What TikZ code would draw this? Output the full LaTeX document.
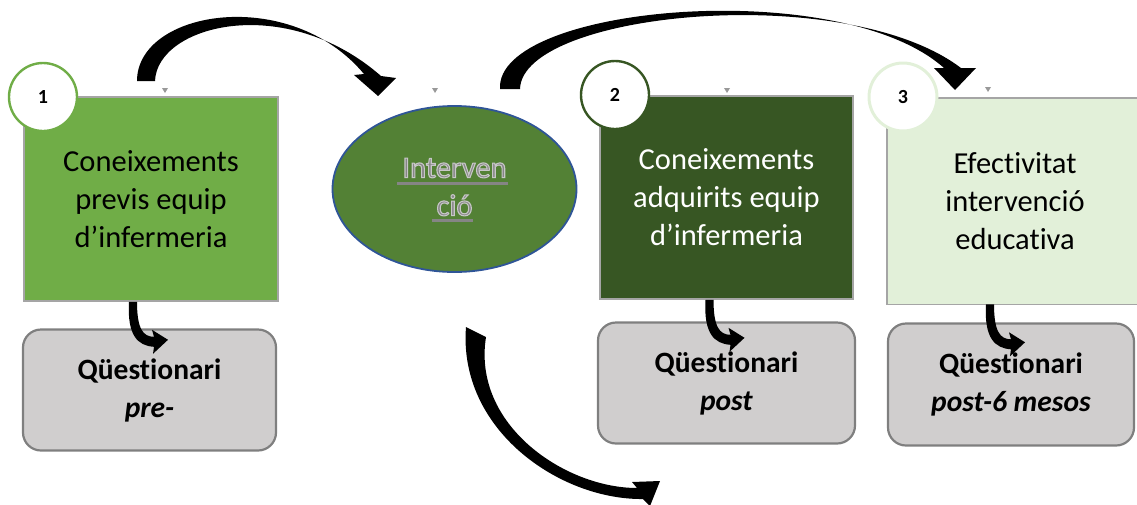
\documentclass[tikz,border=0pt]{standalone}
\usepackage{fontspec}
\setmainfont{Carlito}[Ligatures=NoCommon]
\usetikzlibrary{shapes.geometric}

\definecolor{gmid}{HTML}{70AD47}
\definecolor{gdark}{HTML}{375623}
\definecolor{gell}{HTML}{538135}
\definecolor{gpale}{HTML}{E2F0D9}
\definecolor{qfill}{HTML}{D0CECE}
\definecolor{qline}{HTML}{7F7F7F}
\definecolor{bline}{HTML}{A5A5A5}
\definecolor{eline}{HTML}{2F5597}
\definecolor{etxtfill}{HTML}{858585}

% filled glyphs with a pale stroked outline (PDF text render mode 2)
\newcommand\halo[1]{{\color{etxtfill}\special{pdf:literal direct 2 Tr 1.1 w 0.78 G}#1\special{pdf:literal direct 0 Tr}}}

\begin{document}
\begin{tikzpicture}[x=1pt,y=-1pt,
  stage/.style={draw=bline, line width=1.6pt, minimum width=254pt, minimum height=204pt,
    align=center, inner sep=0pt, font=\fontsize{30.5}{38}\selectfont},
  quest/.style={draw=qline, fill=qfill, line width=2.2pt, rounded corners=18pt,
    minimum width=253pt, minimum height=121pt, align=center, inner sep=0pt,
    font=\fontsize{29.5}{38}\selectfont\bfseries},
  badge/.style={circle, fill=white, line width=2.4pt, minimum size=68pt, inner sep=0pt,
    font=\fontsize{20}{20}\selectfont\bfseries},
  etext/.style={align=center, inner sep=0pt, font=\fontsize{30.5}{38}\selectfont},
  uline/.style={draw=etxtfill, line width=2.2pt},
  edge/.style={draw=bline, line width=1.6pt},
  curl/.pic={\fill[black] (-4,0) .. controls (-6,34) and (5,44) .. (21,45) -- (20,52)
      -- (35,38) -- (19,28) -- (21,35) .. controls (10,35) and (4,27) .. (4,0) -- cycle;},
  tick/.pic={\fill[gray!80] (-3,-2) -- (3,-2) -- (0,3) -- cycle;}
]
\useasboundingbox (0,0) rectangle (1137,504);

% stage boxes
\node[stage, fill=gmid] (b1) at (151,199) {Coneixements\\previs equip\\d’infermeria};
\node[stage, fill=gdark, text=white, minimum width=253pt, minimum height=203pt] (b2) at (726.5,197.5)
  {Coneixements\\adquirits equip\\d’infermeria};
% the third box runs past the right edge, so its right side is left open
\node[stage, draw=none, fill=gpale, minimum width=270pt, minimum height=205pt, text width=254pt]
  (b3) at (1023,201) {\hspace*{-16pt}\parbox{254pt}{\centering Efectivitat\\intervenció\\educativa}};
\draw[edge] (b3.north east) -- (b3.north west) -- (b3.south west) -- (b3.south east);

% intervention ellipse with underlined, haloed label
\node[ellipse, draw=eline, line width=1.8pt, fill=gell, minimum width=244pt, minimum height=166pt,
  inner sep=0pt] (ell) at (454.5,189) {};
\node[etext] (etxt) at (454.5,187) {\halo{Interven}\\\halo{ció}};
\draw[uline] (397,183.5) -- (508,183.5);
\draw[uline] (432,220.5) -- (473,220.5);

% step badges
\node[badge, draw=gmid] (c1) at (43,97) {1};
\node[badge, draw=gdark] (c2) at (615,95) {2};
\node[badge, draw=gpale, line width=3pt] (c3) at (903,97) {3};

% questionnaires
\node[quest] (q1) at (149.5,390) {Qüestionari\\\textit{pre-}};
\node[quest, minimum width=257pt] (q2) at (726.5,383) {Qüestionari\\\textit{post}};
\node[quest, minimum width=246pt, minimum height=122pt] (q3) at (1011,384.5) {Qüestionari\\\textit{post-6 mesos}};

% small markers above the shapes
\pic at (165,90) {tick};
\pic at (435,90) {tick};
\pic at (727,90) {tick};
\pic at (988,89) {tick};

% curved block arrows
\fill[black] (137,81) .. controls (137,10) and (290,-15) .. (364,74) -- (354,75) -- (378,96)
  -- (396,78) -- (381,76) .. controls (285,-8) and (157,25) .. (155,81) -- cycle;
\fill[black] (500,89) .. controls (495,5) and (840,-25) .. (944,68) -- (934,68) -- (955,90)
  -- (976,68) -- (961,68) .. controls (845,-20) and (522,12) .. (520,89) -- cycle;
\fill[black] (466,327) .. controls (458,430) and (560,500) .. (643,499) -- (650,506) -- (660,481)
  -- (632,482) -- (637,488) .. controls (565,488) and (472,425) .. (486,337) -- cycle;

% small arrows from each stage to its questionnaire
\pic at ([xshift=-18pt]b1.south) {curl};
\pic at ([xshift=-17pt]b2.south) {curl};
\pic at ([xshift=-33pt]b3.south) {curl};
\end{tikzpicture}
\end{document}
